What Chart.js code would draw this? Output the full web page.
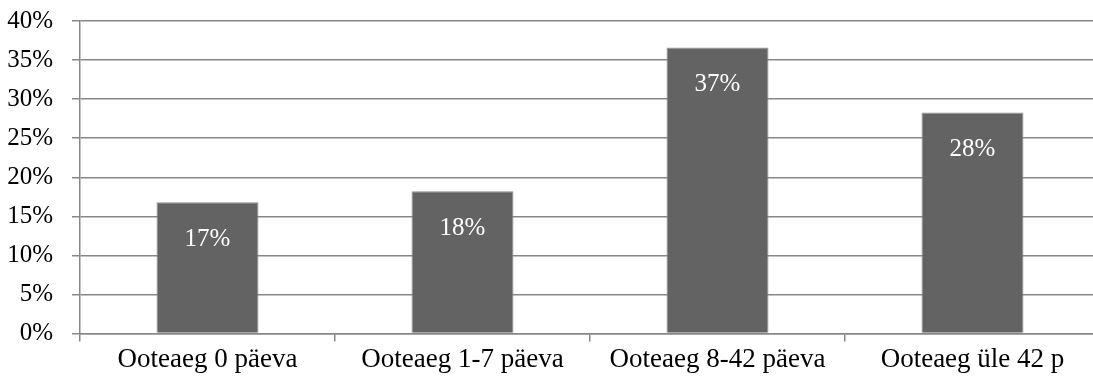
<!DOCTYPE html>
<html>
<head>
<meta charset="utf-8">
<script src="https://cdn.jsdelivr.net/npm/chart.js@4/dist/chart.umd.min.js"></script>
<style>
  html, body { margin: 0; padding: 0; background: #fff; overflow: hidden; }
  #wrap { width: 1093px; height: 378px; overflow: hidden; position: relative; }
  canvas { display: block; }
</style>
</head>
<body>
<div id="wrap"><canvas id="c" width="1102" height="378"></canvas></div>
<script>
// Waiting-time groups and their shares (%)
const categories = ['Ooteaeg 0 päeva', 'Ooteaeg 1-7 päeva', 'Ooteaeg 8-42 päeva', 'Ooteaeg üle 42 p'];
const shares = [16.8, 18.2, 36.6, 28.3];
const yTicks = [0, 5, 10, 15, 20, 25, 30, 35, 40];

const FONT = 'Liberation Serif, "Times New Roman", serif';
const LINE = '#878787';

// Writes the rounded share inside the top of each bar
const barValueLabels = {
  id: 'barValueLabels',
  afterDatasetsDraw(chart) {
    const ctx = chart.ctx;
    const meta = chart.getDatasetMeta(0);
    ctx.save();
    ctx.font = '25px ' + FONT;
    ctx.fillStyle = '#ffffff';
    ctx.textAlign = 'center';
    ctx.textBaseline = 'middle';
    meta.data.forEach((bar, i) => {
      ctx.fillText(Math.round(shares[i]) + '%', bar.x, bar.y + 37);
    });
    ctx.restore();
  }
};

new Chart(document.getElementById('c'), {
  type: 'bar',
  data: {
    labels: categories,
    datasets: [{
      data: shares,
      backgroundColor: '#636363',
      borderColor: '#8f8f8f',
      borderWidth: 1,
      barPercentage: 0.4,
      categoryPercentage: 1
    }]
  },
  options: {
    responsive: false,
    animation: false,
    layout: { padding: { left: 0, top: 21, right: 2, bottom: 0 } },
    plugins: { legend: { display: false }, tooltip: { enabled: false } },
    scales: {
      x: {
        grid: { offset: true, drawOnChartArea: false, tickLength: 8, color: LINE, lineWidth: 1.5 },
        border: { color: LINE, width: 1.5 },
        ticks: { color: '#000', font: { family: FONT, size: 27 }, padding: 2, maxRotation: 0 }
      },
      y: {
        min: 0,
        max: 40,
        afterBuildTicks(axis) { axis.ticks = yTicks.map(v => ({ value: v })); },
        afterFit(axis) {
          axis.width = 80;
          axis.paddingTop = 0;
          axis.paddingBottom = 0;
        },
        grid: { tickLength: 8, color: LINE, lineWidth: 1.5 },
        border: { color: LINE, width: 1.5 },
        ticks: {
          color: '#000',
          font: { family: FONT, size: 25 },
          padding: 19,
          callback: v => v + '%'
        }
      }
    }
  },
  plugins: [barValueLabels]
});
</script>
</body>
</html>
